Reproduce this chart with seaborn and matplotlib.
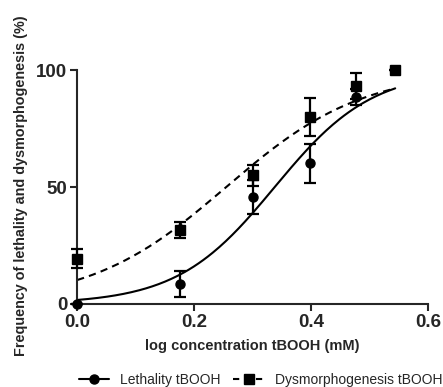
import numpy as np
import pandas as pd
import matplotlib
matplotlib.use('Agg')
import matplotlib.pyplot as plt
from matplotlib.lines import Line2D
import seaborn as sns

# measured points (log mM)
log_conc = [0.0, 0.176, 0.301, 0.398, 0.477]
lethality = [0.0, 8.5, 45.7, 60.1, 88.6]
lethality_sem = [0.0, 5.5, 7.4, 8.3, 3.5]

log_conc_dys = [0.0, 0.176, 0.301, 0.398, 0.477, 0.544]
dysmorph = [19.4, 31.6, 55.0, 80.0, 93.3, 100.0]
dysmorph_sem = [4.0, 3.5, 4.5, 8.0, 5.5, 0.0]

# 4PL fit parameters (bottom, top, logEC50, hill)
fit_lethality = (0.0, 100.0, 0.338, 5.2)
fit_dysmorph = (0.0, 100.0, 0.255, 3.7)


def logistic(x, p):
    bottom, top, ec50, hill = p
    return bottom + (top - bottom) / (1 + 10 ** ((ec50 - x) * hill))


sns.set_style('ticks')
plt.rcParams['font.family'] = ['Liberation Sans', 'DejaVu Sans']

xs = np.linspace(0.0, 0.544, 200)
curves = pd.concat([
    pd.DataFrame({'x': xs, 'y': logistic(xs, fit_lethality), 'series': 'Lethality tBOOH'}),
    pd.DataFrame({'x': xs, 'y': logistic(xs, fit_dysmorph), 'series': 'Dysmorphogenesis tBOOH'}),
])

fig = plt.figure(figsize=(4.43, 3.87), dpi=100)
ax = fig.add_axes([0.174, 0.2145, 0.792, 0.6045])

sns.lineplot(data=curves, x='x', y='y', hue='series', style='series',
             palette=['black', 'black'], dashes=[(None, None), (3.5, 2.5)],
             linewidth=1.5, legend=False, ax=ax)

ax.errorbar(log_conc, lethality, yerr=lethality_sem, fmt='o', color='black',
            markersize=6.5, capsize=4, elinewidth=1.6, capthick=1.6, clip_on=False, zorder=4)
ax.errorbar(log_conc_dys, dysmorph, yerr=dysmorph_sem, fmt='s', color='black',
            markersize=6.5, capsize=4, elinewidth=1.6, capthick=1.6, clip_on=False, zorder=4)

ax.set_xlim(0, 0.6)
ax.set_ylim(0, 100)
ax.set_xticks([0.0, 0.2, 0.4, 0.6])
ax.set_yticks([0, 50, 100])
ax.set_xticklabels(['0.0', '0.2', '0.4', '0.6'])
for lab in ax.get_xticklabels() + ax.get_yticklabels():
    lab.set_fontweight('bold')
    lab.set_fontsize(13.5)
ax.tick_params(width=1.5, length=5, direction='out', pad=2)
for s in ['left', 'bottom']:
    ax.spines[s].set_linewidth(1.5)
sns.despine(ax=ax)

ax.set_xlabel('log concentration tBOOH (mM)', fontsize=10.5, fontweight='bold', labelpad=6)
ax.set_ylabel('Frequency of lethality and dysmorphogenesis (%)', fontsize=10.4,
              fontweight='bold')
ax.yaxis.set_label_coords(-0.14, 0.506)

handles = [
    Line2D([], [], color='black', marker='o', markersize=6.5, linewidth=1.5),
    Line2D([], [], color='black', marker='s', markersize=6.5, linewidth=1.5, dashes=(3, 2.5)),
]
fig.legend(handles, ['Lethality tBOOH', 'Dysmorphogenesis tBOOH'], loc='center',
           bbox_to_anchor=(0.588, 0.018), ncol=2, frameon=False, fontsize=10,
           handlelength=2.2, columnspacing=0.9, handletextpad=0.8)

fig.savefig('out.png', dpi=100)
